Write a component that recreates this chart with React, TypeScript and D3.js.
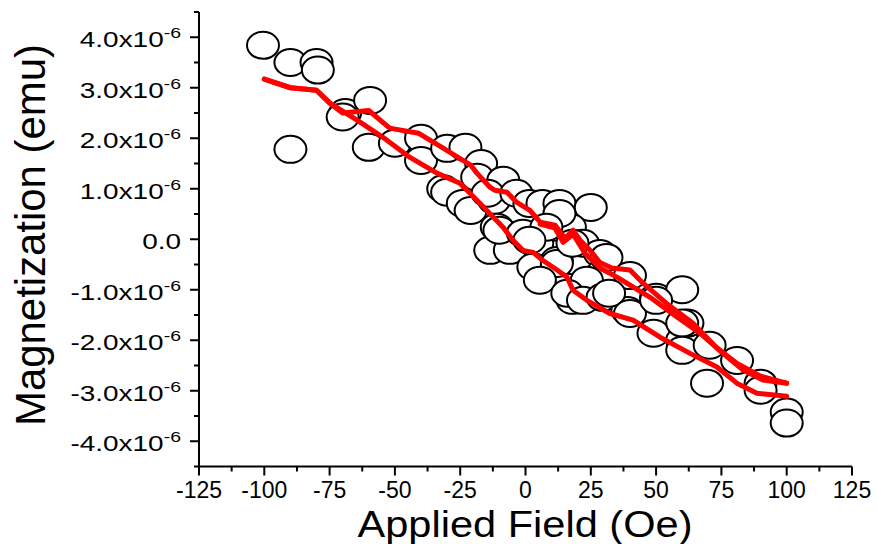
import React from "react";
import * as d3 from "d3";

// axis ticks
const xTickValues = [-125, -100, -75, -50, -25, 0, 25, 50, 75, 100, 125];
const yTickValues = [-4, -3, -2, -1, 0, 1, 2, 3, 4];
const yTickMantissa = ["-4.0", "-3.0", "-2.0", "-1.0", "0.0", "1.0", "2.0", "3.0", "4.0"];

// measured points: field (Oe) and moment (x10^-6 emu)
const pointField = [
  -100.5, -90, -80, -79.5, -69, -70, -59.5, -90, -60, -50, -40, -40, -30, -23, -17,
  -18.5, -8.5, -31.5, -30, -24, -21, -12, -11, -13.5, -6, -14.5, -3.5, 1.5, 6.5, 13,
  25, -10, -1, 4.5, 12, 17, 22, 3, 12, 16, 18, 28.5, 29.5, 23.5, 13, 8, 1.5, 12, 5.5,
  18, 31, 40, 50, 60, 16, 22, 29.5, 39, 49, 60, 62, 32, 40, 50, 60, 60, 70.5, 81,
  69.5, 90, 90, 100, 100,
];
const pointMoment = [
  3.84, 3.5, 3.5, 3.35, 2.51, 2.42, 2.75, 1.78, 1.82, 1.9, 2.0, 1.56, 1.8, 1.82, 1.5,
  1.23, 1.17, 1.0, 0.93, 0.71, 0.57, 0.77, 0.24, -0.22, -0.22, 0.91, 0.91, 0.71, 0.71, 0.71,
  0.63, 0.18, 0.12, -0.08, 0.24, 0.24, -0.08, -0.55, -0.42, -0.95, -1.21, -0.28, -0.67, -0.81, 0.51, 0.24, -0.02, -0.48, -0.81,
  -0.08, -0.36, -0.72, -1.15, -1.0, -1.07, -1.21, -1.15, -1.41, -1.86, -2.0, -1.66, -1.07, -1.47, -1.21, -1.66, -2.2, -2.1, -2.4,
  -2.85, -2.85, -2.99, -3.42, -3.64,
];

// descending branch
const upperField = [
  -100, -90, -80, -75, -70, -60, -52, -41, -32, -21, -18.6, -13.6, -11.7, -7.1, -3.3, 1.7,
  5.6, 11.3, 15.1, 18.2, 20.9, 24.7, 28.5, 33, 40, 45, 54, 64, 73, 81, 90, 100,
];
const upperMoment = [
  3.17, 3.0, 2.95, 2.7, 2.5, 2.55, 2.2, 2.1, 1.82, 1.47, 1.31, 1.03, 0.97, 0.93, 0.73, 0.57,
  0.34, 0.28, 0.02, 0.18, -0.02, -0.22, -0.46, -0.57, -0.61, -0.87, -1.27, -1.66, -2.14, -2.46, -2.71, -2.85,
];

// initial curve
const initialField = [5.6, 11.3, 14.4, 18.2, 22.8, 28.5, 35, 47.7, 58, 66.8, 75.6, 83.3, 90.9, 100];
const initialMoment = [0.3, 0.22, -0.06, 0.1, -0.28, -0.57, -0.75, -1.15, -1.54, -1.86, -2.26, -2.59, -2.79, -2.85];

// ascending branch
const lowerField = [
  -100, -90, -80, -75, -64.5, -54.6, -44.2, -33.9, -25.1, -22.4, -17.4, -12.4, -8.6, -4.8, -1,
  2.9, 6.7, 12.1, 15.9, 18.2, 23.5, 32.3, 41.2, 51.5, 63, 73.3, 80.9, 88.6, 100,
];
const lowerMoment = [
  3.17, 3.0, 2.95, 2.7, 2.36, 2.02, 1.62, 1.31, 1.11, 0.97, 0.71, 0.44, 0.24, -0.02, -0.22,
  -0.26, -0.42, -0.61, -0.75, -1.01, -1.21, -1.47, -1.6, -1.94, -2.26, -2.53, -2.85, -3.05, -3.11,
];

const font = "'Liberation Sans', Arial, sans-serif";

export default function App() {
  const x = d3.scaleLinear().domain([-125, 125]).range([199, 852]);
  const y = d3.scaleLinear().domain([-4.5, 4.5]).range([466.5, 12]);

  const line = d3
    .line<[number, number]>()
    .x((d) => x(d[0]))
    .y((d) => y(d[1]));

  const branches = [
    d3.zip(upperField, upperMoment),
    d3.zip(initialField, initialMoment),
    d3.zip(lowerField, lowerMoment),
  ] as [number, number][][];

  const points = d3.zip(pointField, pointMoment);
  const xMinor = d3.range(-125, 126, 12.5);
  const yMinor = d3.range(-4.5, 4.51, 0.5);

  return (
    <svg
      width={878}
      height={544}
      style={{ position: "absolute", left: 0, top: 0, background: "#fff" }}
      fontFamily={font}
    >
      {/* markers */}
      {points.map((d, i) => (
        <ellipse
          key={i}
          cx={x(d[0])}
          cy={y(d[1])}
          rx={16}
          ry={13.5}
          fill="#fff"
          stroke="#000"
          strokeWidth={2}
        />
      ))}

      {branches.map((b, i) => (
        <path
          key={i}
          d={line(b) || ""}
          fill="none"
          stroke="#ff0000"
          strokeWidth={5}
          strokeLinejoin="round"
          strokeLinecap="round"
        />
      ))}

      {/* axes */}
      <line x1={x(-125)} x2={x(125)} y1={y(-4.5)} y2={y(-4.5)} stroke="#000" strokeWidth={2} />
      <line x1={x(-125)} x2={x(-125)} y1={y(-4.5)} y2={y(4.5)} stroke="#000" strokeWidth={2} />

      {xMinor.map((v) => (
        <line
          key={"xm" + v}
          x1={x(v)}
          x2={x(v)}
          y1={y(-4.5)}
          y2={y(-4.5) + (v % 25 === 0 ? 9 : 5)}
          stroke="#000"
          strokeWidth={2}
        />
      ))}
      {yMinor.map((v) => (
        <line
          key={"ym" + v}
          x1={x(-125)}
          x2={x(-125) - (Number.isInteger(v) ? 9 : 5)}
          y1={y(v)}
          y2={y(v)}
          stroke="#000"
          strokeWidth={2}
        />
      ))}

      {xTickValues.map((v) => (
        <text
          key={"xl" + v}
          x={x(v)}
          y={498}
          textAnchor="middle"
          fontSize={23}
          fill="#000"
        >
          {v}
        </text>
      ))}

      {yTickValues.map((v, i) => (
        <g key={"yl" + v} transform={`translate(181,${y(v) + 10}) scale(1.3,1)`}>
          <text textAnchor="end" fontSize={21.5} fill="#000">
            {v === 0 ? (
              yTickMantissa[i]
            ) : (
              <>
                {yTickMantissa[i] + "x10"}
                <tspan fontSize={15} dy={-9}>
                  -6
                </tspan>
              </>
            )}
          </text>
        </g>
      ))}

      <text
        x={525}
        y={537}
        textAnchor="middle"
        fontSize={36}
        textLength={335}
        lengthAdjust="spacingAndGlyphs"
        fill="#000"
      >
        Applied Field (Oe)
      </text>
      <text
        transform={`translate(45,235) rotate(-90)`}
        textAnchor="middle"
        fontSize={42}
        textLength={382}
        lengthAdjust="spacingAndGlyphs"
        fill="#000"
      >
        Magnetization (emu)
      </text>
    </svg>
  );
}
